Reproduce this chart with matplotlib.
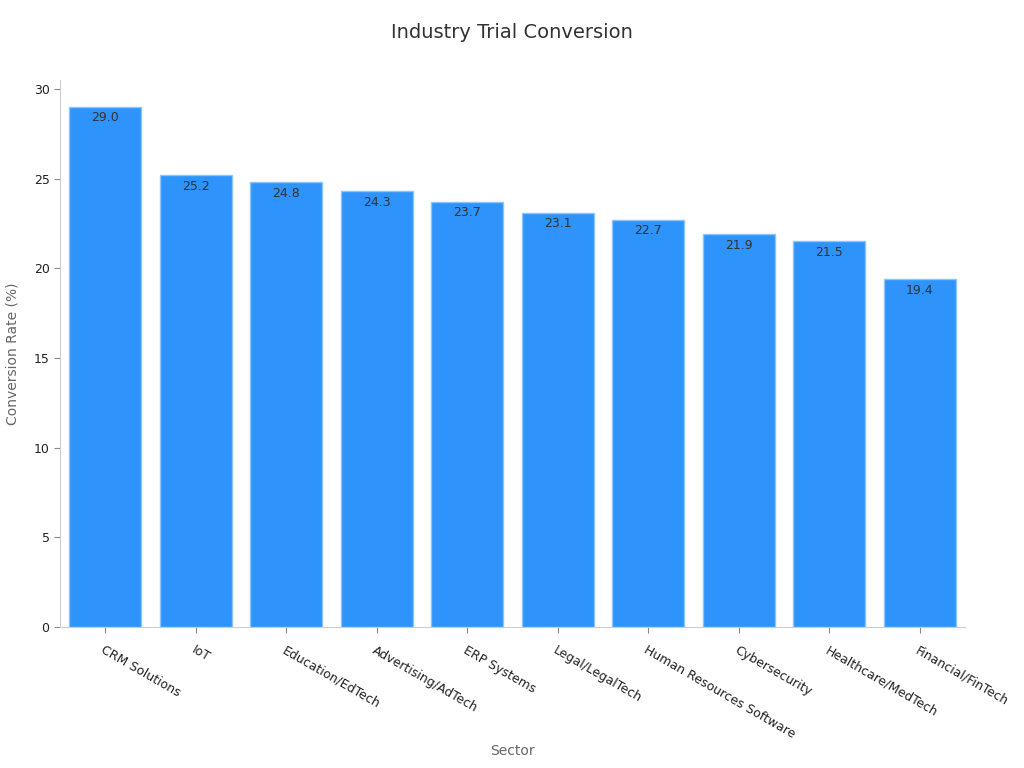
import matplotlib
matplotlib.use("Agg")
import matplotlib.pyplot as plt

sectors = ["CRM Solutions", "IoT", "Education/EdTech", "Advertising/AdTech", "ERP Systems",
           "Legal/LegalTech", "Human Resources Software", "Cybersecurity", "Healthcare/MedTech",
           "Financial/FinTech"]
rates = [29.0, 25.2, 24.8, 24.3, 23.7, 23.1, 22.7, 21.9, 21.5, 19.4]

fig = plt.figure(figsize=(10.24, 7.68), dpi=100)
ax = fig.add_axes([60/1024, 1-627/768, 905/1024, 547/768])
x = range(len(sectors))
ax.bar(x, rates, width=0.8, color="#2E93FA", edgecolor="#8CC4FB", linewidth=1)
for xi, v in zip(x, rates):
    ax.text(xi, v - 0.25, f"{v:.1f}", ha="center", va="top", fontsize=9, color="#333333")
ax.set_xlim(-0.5, 9.5)
ax.set_ylim(0, 30.5)
ax.set_xticks(list(x))
ax.set_xticklabels(sectors, rotation=-30, ha="left", rotation_mode="anchor", fontsize=9, color="#222222")
ax.set_yticks([0, 5, 10, 15, 20, 25, 30])
ax.tick_params(axis="y", labelsize=9, length=4)
ax.tick_params(axis="x", length=4, pad=8)
for s in ["top", "right"]:
    ax.spines[s].set_visible(False)
for s in ["left", "bottom"]:
    ax.spines[s].set_color("#cccccc")
ax.tick_params(colors="#888888", labelcolor="#222222")
fig.text(0.5, 1-751/768, "Sector", ha="center", va="center", fontsize=10, color="#666666")
ax.set_ylabel("Conversion Rate (%)", fontsize=10, color="#666666", labelpad=10)
fig.text(0.5, 1-33/768, "Industry Trial Conversion", ha="center", va="center", fontsize=14, color="#333333")
fig.savefig("out.png", dpi=100)
